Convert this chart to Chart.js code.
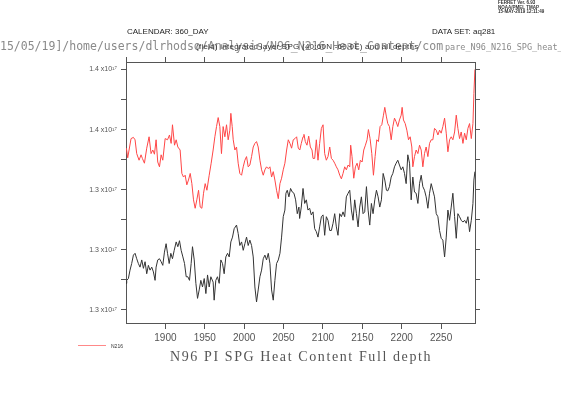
<!DOCTYPE html>
<html>
<head>
<meta charset="utf-8">
<script src="https://cdn.jsdelivr.net/npm/chart.js@4/dist/chart.umd.min.js"></script>
<style>
  body { margin: 0; background: #fff; }
  #wrap { position: relative; width: 561px; height: 397px; overflow: hidden; }
  .txt { position: absolute; white-space: nowrap; line-height: 1; font-family: "Liberation Sans", Arial, sans-serif; }
  #stamp { left: 498px; top: 1px; font-size: 4.5px; line-height: 4.6px; font-weight: bold; color: #333; }
  #calendar { left: 127px; top: 28px; font-size: 8px; color: #222; }
  #dataset { left: 432px; top: 28px; font-size: 8px; color: #222; }
  #path { left: 0; top: 41px; font-size: 11.5px; font-family: "DejaVu Sans Mono", monospace; color: #8a8a8a; }
  #path .tail { position: absolute; left: 445px; top: 1.5px; font-size: 8.5px; letter-spacing: 0; }
  #subtitle { left: 196px; top: 43px; font-size: 8px; letter-spacing: 0.25px; color: #333; }
  #title { left: 170px; top: 350px; font-size: 14px; font-family: "Liberation Serif", serif; letter-spacing: 1.6px; color: #555; }
  #legLine { position: absolute; left: 78px; top: 345px; width: 28px; height: 1px; background: #f88; }
  #legText { left: 111px; top: 343.5px; font-size: 5px; color: #333; }
</style>
</head>
<body>
<div id="wrap">
  <canvas id="chart" width="561" height="397"></canvas>
  <div class="txt" id="stamp">FERRET Ver. 6.93<br>NOAA/PMEL TMAP<br>15-MAY-2019 12:11:49</div>
  <div class="txt" id="calendar">CALENDAR: 360_DAY</div>
  <div class="txt" id="dataset">DATA SET: aq281</div>
  <div class="txt" id="path">15/05/19]/home/users/dlrhodso/Analysis/N96_N216_Heat_Content/com<span class="tail">pare_N96_N216_SPG_heat_</span></div>
  <div class="txt" id="subtitle">(field) integrated layer SPG (40:60N -60:0E) and all depths</div>
  <div class="txt" id="title">N96 PI SPG Heat Content Full depth</div>
  <div id="legLine"></div>
  <div class="txt" id="legText">N216</div>
</div>
<script>
// values in units of 10^17
const redYears = [
  1850.5,1852.2,1856.4,1859.4,1861.5,1863.6,1866.6,1869.1,1870.8,1873.4,
  1876.3,1879.3,1881.8,1884.0,1886.1,1888.2,1890.3,1892.5,1894.6,1896.7,
  1899.7,1902.7,1905.2,1907.3,1909.0,1911.6,1913.7,1915.8,1918.7,1920.9,
  1923.0,1925.1,1927.2,1929.3,1931.5,1933.6,1935.7,1937.8,1939.9,1942.1,
  1944.2,1946.3,1948.4,1950.5,1952.7,1955.6,1958.1,1960.6,1962.8,1964.9,
  1967.0,1969.1,1971.2,1973.3,1975.5,1977.6,1979.7,1981.8,1983.1,1984.8,
  1986.1,1988.2,1990.3,1992.4,1994.5,1996.7,1998.8,2000.9,2003.0,2005.1,
  2007.2,2009.4,2011.5,2013.6,2015.7,2017.8,2020.0,2022.1,2024.2,2026.3,
  2028.4,2030.6,2032.7,2034.8,2036.9,2039.0,2041.1,2043.3,2045.4,2047.5,
  2049.6,2051.7,2053.9,2056.0,2058.1,2060.2,2062.3,2064.5,2066.6,2068.7,
  2070.6,2072.5,2074.7,2075.9,2077.6,2079.7,2081.9,2084.0,2086.1,2087.4,
  2089.5,2091.6,2093.7,2095.8,2098.0,2100.1,2102.2,2104.3,2106.4,2108.6,
  2110.7,2112.8,2114.9,2117.0,2119.1,2121.3,2123.4,2125.5,2127.6,2129.7,
  2131.9,2134.0,2135.2,2136.9,2139.1,2141.2,2143.3,2145.4,2147.5,2149.7,
  2151.8,2153.9,2156.0,2157.7,2159.8,2162.0,2164.1,2166.2,2168.3,2170.4,
  2172.5,2174.7,2176.8,2178.5,2180.6,2182.3,2184.4,2186.6,2188.7,2190.8,
  2192.9,2195.0,2197.1,2199.3,2200.5,2202.2,2204.4,2206.5,2208.6,2210.7,
  2212.8,2214.1,2216.2,2218.3,2220.5,2222.6,2224.7,2226.8,2228.9,2231.0,
  2233.2,2235.3,2237.4,2239.5,2241.6,2243.8,2245.9,2248.0,2250.1,2252.2,
  2254.4,2256.5,2258.6,2260.7,2262.8,2264.9,2267.1,2269.2,2271.3,2273.4,
  2275.5,2277.7,2279.8,2281.9,2284.0,2286.1,2288.3,2290.4,2291.6,2292.9
];
const redValues = [
  1.3469,1.3453,1.3485,1.3487,1.3483,1.3460,1.3449,1.3458,1.3452,1.3444,
  1.3469,1.3488,1.3460,1.3466,1.3459,1.3483,1.3446,1.3438,1.3458,1.3449,
  1.3485,1.3483,1.3491,1.3477,1.3508,1.3474,1.3483,1.3471,1.3466,1.3427,
  1.3421,1.3424,1.3408,1.3416,1.3427,1.3410,1.3383,1.3369,1.3383,1.3399,
  1.3371,1.3369,1.3394,1.3410,1.3399,1.3424,1.3444,1.3466,1.3488,1.3505,
  1.3520,1.3505,1.3460,1.3505,1.3488,1.3508,1.3483,1.3499,1.3527,1.3505,
  1.3483,1.3466,1.3471,1.3444,1.3427,1.3424,1.3438,1.3449,1.3455,1.3438,
  1.3441,1.3455,1.3471,1.3477,1.3480,1.3471,1.3449,1.3433,1.3424,1.3433,
  1.3438,1.3435,1.3438,1.3421,1.3430,1.3416,1.3399,1.3385,1.3410,1.3419,
  1.3433,1.3444,1.3466,1.3483,1.3477,1.3469,1.3483,1.3485,1.3488,1.3469,
  1.3466,1.3477,1.3488,1.3492,1.3480,1.3474,1.3489,1.3471,1.3466,1.3452,
  1.3452,1.3483,1.3449,1.3477,1.3502,1.3508,1.3460,1.3449,1.3455,1.3471,
  1.3452,1.3449,1.3444,1.3438,1.3433,1.3424,1.3418,1.3427,1.3438,1.3433,
  1.3441,1.3438,1.3474,1.3455,1.3419,1.3438,1.3444,1.3433,1.3449,1.3446,
  1.3466,1.3474,1.3483,1.3500,1.3485,1.3460,1.3424,1.3455,1.3483,1.3480,
  1.3505,1.3508,1.3524,1.3537,1.3521,1.3510,1.3505,1.3483,1.3505,1.3519,
  1.3513,1.3505,1.3516,1.3524,1.3537,1.3516,1.3510,1.3499,1.3483,1.3488,
  1.3471,1.3438,1.3455,1.3466,1.3460,1.3474,1.3466,1.3438,1.3460,1.3471,
  1.3455,1.3477,1.3483,1.3483,1.3502,1.3499,1.3491,1.3499,1.3494,1.3505,
  1.3519,1.3494,1.3463,1.3483,1.3488,1.3483,1.3496,1.3524,1.3502,1.3485,
  1.3496,1.3477,1.3494,1.3483,1.3502,1.3510,1.3485,1.3510,1.3560,1.3600
];
const blackYears = [
  1850.0,1850.9,1853.0,1855.1,1857.2,1859.4,1861.5,1863.6,1865.7,1867.8,
  1870.0,1872.1,1874.2,1876.3,1878.4,1880.5,1882.7,1884.8,1886.9,1888.2,
  1890.3,1892.5,1894.6,1896.7,1898.8,1900.9,1902.7,1904.8,1906.9,1909.0,
  1911.2,1913.7,1915.8,1917.9,1920.0,1922.2,1924.3,1926.4,1928.5,1930.6,
  1932.7,1934.4,1936.6,1938.7,1940.8,1942.9,1945.0,1947.1,1949.3,1951.4,
  1953.5,1955.6,1957.7,1960.6,1961.9,1964.0,1966.1,1968.3,1970.4,1972.5,
  1974.6,1976.7,1978.9,1981.0,1983.1,1985.2,1987.3,1990.3,1992.4,1994.5,
  1996.7,1998.8,2000.9,2003.0,2005.1,2007.2,2009.4,2011.5,2013.6,2015.7,
  2017.8,2020.0,2022.1,2024.2,2026.3,2028.4,2030.6,2032.7,2034.8,2036.9,
  2039.0,2041.1,2043.3,2045.4,2047.5,2049.6,2051.7,2053.0,2054.7,2056.8,
  2058.9,2061.1,2063.2,2065.3,2067.4,2069.5,2070.4,2072.5,2074.7,2076.8,
  2078.9,2081.0,2083.1,2085.2,2087.4,2089.5,2091.6,2093.7,2095.8,2098.0,
  2100.1,2102.2,2104.3,2106.4,2108.6,2110.7,2112.8,2114.9,2117.0,2119.1,
  2121.3,2123.4,2125.5,2127.6,2129.7,2131.9,2134.0,2136.1,2138.2,2140.3,
  2142.5,2144.6,2146.7,2148.8,2150.9,2153.0,2155.2,2157.3,2159.4,2161.5,
  2163.6,2165.8,2167.9,2170.0,2172.1,2174.2,2176.4,2178.5,2180.6,2182.3,
  2184.4,2186.6,2188.7,2190.8,2192.9,2195.0,2197.1,2199.3,2201.4,2203.5,
  2205.6,2207.7,2209.9,2212.0,2214.1,2216.2,2218.3,2220.5,2222.6,2224.7,
  2226.8,2228.9,2231.0,2233.2,2235.3,2237.4,2239.5,2241.6,2243.8,2245.9,
  2248.0,2250.1,2252.2,2254.4,2256.5,2258.6,2260.7,2262.8,2264.9,2267.1,
  2269.2,2271.3,2273.4,2275.5,2277.7,2279.8,2281.9,2284.0,2286.1,2288.3,
  2290.4,2291.6,2292.9
];
const blackValues = [
  1.3244,1.3249,1.3252,1.3266,1.3277,1.3291,1.3294,1.3285,1.3277,1.3271,
  1.3283,1.3269,1.3280,1.3260,1.3274,1.3266,1.3271,1.3263,1.3249,1.3271,
  1.3283,1.3285,1.3280,1.3274,1.3296,1.3310,1.3294,1.3277,1.3294,1.3285,
  1.3299,1.3313,1.3305,1.3315,1.3299,1.3288,1.3277,1.3255,1.3255,1.3249,
  1.3277,1.3305,1.3283,1.3244,1.3219,1.3233,1.3249,1.3238,1.3252,1.3227,
  1.3258,1.3238,1.3255,1.3246,1.3216,1.3249,1.3255,1.3244,1.3283,1.3277,
  1.3260,1.3288,1.3294,1.3288,1.3313,1.3321,1.3335,1.3341,1.3327,1.3307,
  1.3313,1.3299,1.3310,1.3321,1.3307,1.3316,1.3307,1.3288,1.3238,1.3213,
  1.3233,1.3255,1.3266,1.3285,1.3291,1.3283,1.3294,1.3277,1.3233,1.3216,
  1.3249,1.3277,1.3283,1.3294,1.3321,1.3355,1.3366,1.3394,1.3399,1.3388,
  1.3402,1.3396,1.3394,1.3383,1.3360,1.3371,1.3352,1.3371,1.3402,1.3377,
  1.3383,1.3366,1.3369,1.3358,1.3363,1.3335,1.3330,1.3321,1.3338,1.3355,
  1.3358,1.3324,1.3355,1.3349,1.3332,1.3332,1.3344,1.3360,1.3338,1.3324,
  1.3360,1.3355,1.3363,1.3355,1.3388,1.3394,1.3399,1.3366,1.3349,1.3383,
  1.3360,1.3338,1.3371,1.3388,1.3360,1.3363,1.3405,1.3366,1.3341,1.3377,
  1.3360,1.3383,1.3399,1.3388,1.3371,1.3383,1.3427,1.3416,1.3399,1.3398,
  1.3405,1.3421,1.3427,1.3438,1.3444,1.3449,1.3441,1.3433,1.3438,1.3427,
  1.3410,1.3458,1.3444,1.3383,1.3421,1.3396,1.3394,1.3377,1.3410,1.3424,
  1.3405,1.3399,1.3388,1.3369,1.3394,1.3410,1.3399,1.3388,1.3360,1.3355,
  1.3332,1.3319,1.3316,1.3288,1.3321,1.3366,1.3349,1.3371,1.3394,1.3355,
  1.3319,1.3360,1.3355,1.3349,1.3346,1.3349,1.3344,1.3355,1.3330,1.3349,
  1.3377,1.3416,1.3430
];

// axis ticks
const xTickYears = [1900, 1950, 2000, 2050, 2100, 2150, 2200, 2250];
const xTopTickYears = [1850, 1900, 1950, 2000, 2050, 2100, 2150, 2200, 2250];
const yTickValues = [1.32, 1.325, 1.33, 1.335, 1.34, 1.345, 1.35, 1.355, 1.36];
const yTickLabels = ['1.3 x10¹⁷', '', '1.3 x10¹⁷', '', '1.3 x10¹⁷', '', '1.4 x10¹⁷', '', '1.4 x10¹⁷'];

const X_MIN = 1850, X_MAX = 2293;
const Y_MIN = 1.3178, Y_MAX = 1.36125;

function toPoints(xs, ys) {
    return xs.map((x, i) => ({ x: x, y: ys[i] }));
}

const axisColor = '#555';
const tickFont = { family: 'Liberation Sans, Arial, sans-serif', size: 10 };

const ctx = document.getElementById('chart').getContext('2d');
new Chart(ctx, {
    type: 'line',
    data: {
        datasets: [
            {
                label: 'N96',
                data: toPoints(blackYears, blackValues),
                borderColor: '#333333',
                borderWidth: 1,
                pointRadius: 0,
                tension: 0
            },
            {
                label: 'N216',
                data: toPoints(redYears, redValues),
                borderColor: '#ff4646',
                borderWidth: 1,
                pointRadius: 0,
                tension: 0
            }
        ]
    },
    options: {
        responsive: false,
        animation: false,
        devicePixelRatio: 1,
        layout: { padding: 0 },
        plugins: {
            legend: { display: false },
            tooltip: { enabled: false }
        },
        scales: {
            x: {
                type: 'linear',
                position: 'bottom',
                min: X_MIN,
                max: X_MAX,
                afterBuildTicks: s => { s.ticks = xTickYears.map(v => ({ value: v })); },
                afterFit: s => { s.height = 74; },
                ticks: {
                    autoSkip: false,
                    maxRotation: 0,
                    padding: 3,
                    color: '#555',
                    font: tickFont,
                    callback: v => String(v)
                },
                grid: { drawOnChartArea: false, tickLength: 6, color: axisColor },
                border: { color: axisColor }
            },
            x2: {
                type: 'linear',
                position: 'top',
                min: X_MIN,
                max: X_MAX,
                afterBuildTicks: s => { s.ticks = xTopTickYears.map(v => ({ value: v })); },
                afterFit: s => { s.height = 62; },
                ticks: { autoSkip: false, maxRotation: 0, callback: () => '' },
                grid: { drawOnChartArea: false, tickLength: 5, color: axisColor },
                border: { color: axisColor }
            },
            y: {
                type: 'linear',
                position: 'left',
                min: Y_MIN,
                max: Y_MAX,
                afterBuildTicks: s => { s.ticks = yTickValues.map(v => ({ value: v })); },
                afterFit: s => { s.width = 126; },
                ticks: {
                    autoSkip: false,
                    padding: 4,
                    color: '#555',
                    font: { family: 'Liberation Sans, Arial, sans-serif', size: 7 },
                    callback: (v, i) => yTickLabels[i]
                },
                grid: { drawOnChartArea: false, tickLength: 5, color: axisColor },
                border: { color: axisColor }
            },
            y2: {
                type: 'linear',
                position: 'right',
                min: Y_MIN,
                max: Y_MAX,
                afterBuildTicks: s => { s.ticks = yTickValues.map(v => ({ value: v })); },
                afterFit: s => { s.width = 86; },
                ticks: { autoSkip: false, callback: () => '' },
                grid: { drawOnChartArea: false, tickLength: 5, color: axisColor },
                border: { color: axisColor }
            }
        }
    }
});
</script>
</body>
</html>
